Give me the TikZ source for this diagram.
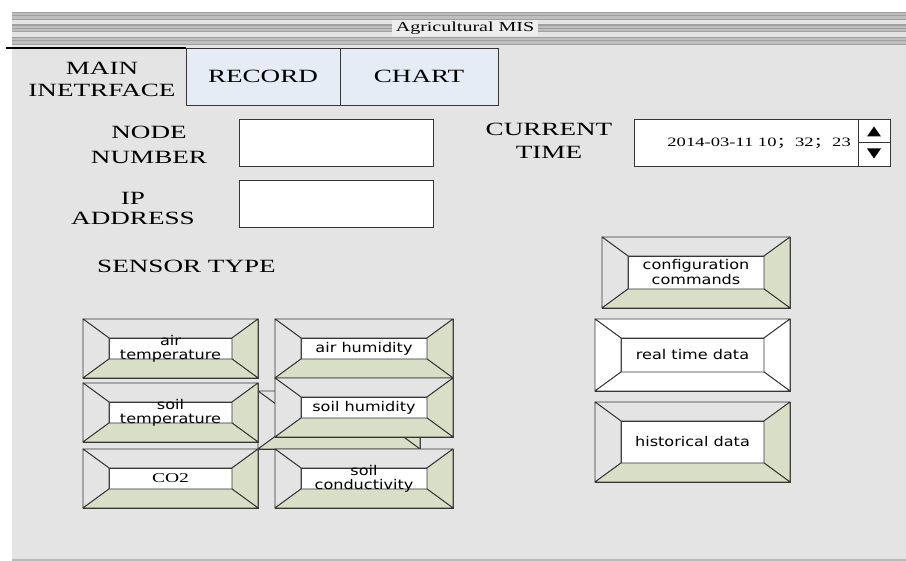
\documentclass[tikz,border=0pt]{standalone}
\usepackage{fontspec}
\usetikzlibrary{calc}
\newfontfamily\uiserif[FakeStretch=1.45]{Liberation Serif}
\newfontfamily\uisans[FakeStretch=1.2]{DejaVu Sans}
\newfontfamily\cjk[FakeStretch=1.45]{Noto Sans CJK SC}
\definecolor{panelgray}{HTML}{E4E4E4}
\definecolor{titlegray}{HTML}{EDEDED}
\definecolor{stripegray}{HTML}{BEBEBE}
\definecolor{stripedark}{HTML}{A0A0A0}
\definecolor{tabblue}{HTML}{E6ECF6}
\definecolor{bevelgreen}{HTML}{D9DEC6}
\definecolor{edgegray}{HTML}{363636}
\tikzset{
  btnframe/.style={draw=edgegray,line width=0.9pt,inner sep=0pt,outer sep=0pt,rectangle},
  btnface/.style={draw=edgegray,fill=white,line width=0.9pt,inner sep=0pt,outer sep=0pt,rectangle},
  bevel/.style={draw=edgegray,line width=0.9pt,line join=round},
  btnlabel/.style={font=\uisans\fontsize{13.4}{14}\selectfont,align=center,inner sep=0pt},
  uilabel/.style={font=\uiserif\fontsize{18.7}{22}\selectfont,align=center,inner sep=0pt,anchor=north},
  entrybox/.style={draw=edgegray,fill=white,line width=0.9pt,inner sep=0pt,outer sep=0pt,rectangle},
  tab/.style={draw=edgegray,fill=tabblue,line width=0.9pt,inner sep=0pt,outer sep=0pt,
    minimum height=57,font=\uiserif\fontsize{18.7}{22}\selectfont}
}
% name, centre x, centre y, width, height, label, lit side, shaded side
\newcommand{\bevbtn}[8]{%
  \node[btnframe,minimum width=#4,minimum height=#5] (#1) at (#2,#3) {};
  \node[btnface,minimum width=#4-52,minimum height=#5-38] (#1-in) at (#1) {};
  \filldraw[bevel,fill=#7] (#1.north west) -- (#1.north east) -- (#1-in.north east) -- (#1-in.north west) -- cycle;
  \filldraw[bevel,fill=#7] (#1.north west) -- (#1-in.north west) -- (#1-in.south west) -- (#1.south west) -- cycle;
  \filldraw[bevel,fill=#8] (#1.north east) -- (#1.south east) -- (#1-in.south east) -- (#1-in.north east) -- cycle;
  \filldraw[bevel,fill=#8] (#1.south west) -- (#1-in.south west) -- (#1-in.south east) -- (#1.south east) -- cycle;
  \node[btnlabel] (#1-lbl) at (#1) {#6};
}
\begin{document}
\begin{tikzpicture}[x=1pt,y=-1pt]
  \useasboundingbox (0,0) rectangle (906,561);
  \fill[panelgray] (12,12) rectangle (906,561);
  \draw[gray!55,line width=1.2pt] (12,560) -- (906,560);
  \foreach \y in {12,24.5,37} {
    \fill[stripegray] (12,\y) rectangle (906,\y+8);
    \draw[stripedark,line width=1.2pt] (12,\y+0.6) -- (906,\y+0.6);
    \draw[stripedark,line width=1pt] (12,\y+4) -- (906,\y+4);
    \draw[stripedark,line width=1.2pt] (12,\y+7.4) -- (906,\y+7.4);
  }
  \node[font=\uiserif\fontsize{13.8}{16}\selectfont,fill=titlegray,inner xsep=4pt,inner ysep=2pt] (title) at (465,28) {Agricultural MIS};

  \node[tab,minimum width=154] (record) at (263,76.5) {RECORD};
  \node[tab,minimum width=158] (chart) at (419,76.5) {CHART};
  \draw[line width=1.1pt] (6,48) -- (record.north west);

  \node[uilabel] (mainlbl) at (102,62) {MAIN\\INETRFACE};
  \node[uilabel] (nodelbl) at (149,126) {NODE\\[2.5pt]NUMBER};
  \node[uilabel] (iplbl) at (133,192) {IP\\[-2pt]ADDRESS};
  \node[uilabel] (sensorlbl) at (186.5,260) {SENSOR TYPE};
  \node[uilabel] (timelbl) at (549,123) {CURRENT\\[1pt]TIME};

  \node[entrybox,minimum width=194,minimum height=47] (nodebox) at (336,142.5) {};
  \node[entrybox,minimum width=194,minimum height=47] (ipbox) at (336,203.5) {};
  \node[entrybox,minimum width=224,minimum height=47] (timebox) at (746,142.5) {};
  \node[entrybox,minimum width=32,minimum height=47] (spin) at (874,142.5) {};
  \draw[edgegray,line width=0.9pt] (spin.west) -- (spin.east);
  \fill ($(spin.center)+(0,-16)$) -- ($(spin.center)+(7,-6)$) -- ($(spin.center)+(-7,-6)$) -- cycle;
  \fill ($(spin.center)+(0,16)$) -- ($(spin.center)+(7,6)$) -- ($(spin.center)+(-7,6)$) -- cycle;
  \node[font=\uiserif\fontsize{12.8}{14}\selectfont,anchor=base east,inner sep=0pt] (timetxt) at (851,147) {2014-03-11 10{\cjk ；}32{\cjk ；}23};

  \bevbtn{airtemp}{170.5}{348.5}{175}{59}{air\\temperature}{panelgray}{bevelgreen}
  \bevbtn{airhum}{364}{348.5}{178}{59}{air humidity}{panelgray}{bevelgreen}
  \bevbtn{spare}{339}{420}{162}{58}{}{panelgray}{bevelgreen}
  \bevbtn{soiltemp}{170.5}{412.5}{175}{59}{soil\\temperature}{panelgray}{bevelgreen}
  \bevbtn{soilhum}{364}{407.5}{178}{59}{soil humidity}{panelgray}{bevelgreen}
  \bevbtn{co2}{170.5}{478.5}{175}{59}{{\uiserif\fontsize{13.5}{14}\selectfont CO2}}{panelgray}{bevelgreen}
  \bevbtn{soilcond}{364}{478.5}{178}{59}{soil\\conductivity}{panelgray}{bevelgreen}

  \bevbtn{config}{696}{272.5}{188}{71}{configuration\\[1pt]commands}{panelgray}{bevelgreen}
  \bevbtn{realtime}{692.5}{355}{195}{72}{real time data}{white}{white}
  \bevbtn{history}{692.5}{442}{195}{80}{historical data}{panelgray}{bevelgreen}
\end{tikzpicture}
\end{document}
